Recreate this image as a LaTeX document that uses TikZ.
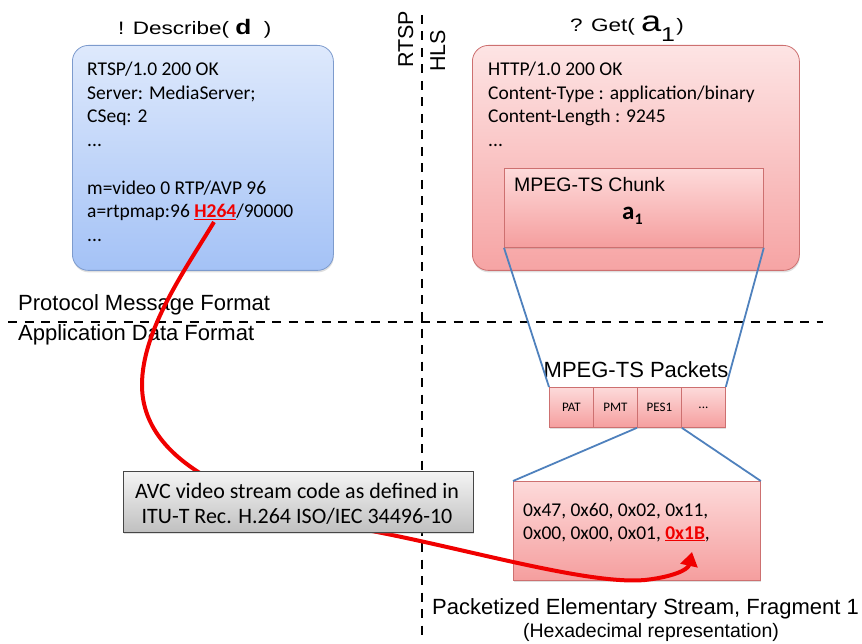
\documentclass[tikz,border=0pt]{standalone}
\usepackage{fontspec}
\usepackage{graphicx}
\setmainfont{Liberation Sans}
\newfontfamily\calib{Carlito}
\usetikzlibrary{arrows.meta,shadows}

\definecolor{bluetop}{RGB}{222,233,252}
\definecolor{bluebot}{RGB}{164,194,246}
\definecolor{blueedge}{RGB}{125,155,205}
\definecolor{redtop}{RGB}{253,228,228}
\definecolor{redbot}{RGB}{246,164,164}
\definecolor{rededge}{RGB}{205,112,112}
\definecolor{chunktop}{RGB}{253,218,218}
\definecolor{chunkbot}{RGB}{245,158,158}
\definecolor{graytop}{RGB}{244,244,244}
\definecolor{graybot}{RGB}{192,192,192}
\definecolor{grayedge}{RGB}{70,70,70}
\definecolor{linkblue}{RGB}{79,129,189}
\definecolor{hotred}{RGB}{240,0,0}

\tikzset{
  x=1pt, y=-1pt,
  shadowed/.style={drop shadow={opacity=0.25, shadow xshift=0.5pt, shadow yshift=-2pt}},
  msgbox/.style={draw, line width=0.8pt, rounded corners=16pt, inner sep=0pt, anchor=north west, shadowed},
  bluebox/.style={msgbox, draw=blueedge, top color=bluetop, bottom color=bluebot},
  redbox/.style={msgbox, draw=rededge, top color=redtop, bottom color=redbot},
  plainbox/.style={draw=rededge, line width=0.8pt, top color=chunktop, bottom color=chunkbot, inner sep=0pt, anchor=north west, shadowed},
  pkt/.style={plainbox, minimum width=44pt, minimum height=40pt, font=\calib\fontsize{13}{13}\selectfont},
  avcbox/.style={draw=grayedge, line width=0.8pt, top color=graytop, bottom color=graybot, inner sep=0pt, anchor=north west, shadowed},
  boxtxt/.style={anchor=base west, inner sep=0pt, font=\calib\fontsize{19.5}{23.5}\selectfont},
  avctxt/.style={anchor=base, inner sep=0pt, font=\calib\fontsize{22}{25}\selectfont},
  lbl/.style={anchor=base west, inner sep=0pt, font=\fontsize{22}{22}\selectfont},
  sidelbl/.style={anchor=base west, inner sep=0pt, rotate=90, font=\fontsize{21.5}{21.5}\selectfont},
  divider/.style={line width=2.6pt, dash pattern=on 9pt off 7.5pt},
  linkline/.style={draw=linkblue, line width=1.8pt},
  refcurve/.style={draw=hotred, line width=4pt, -{Triangle[length=14pt,width=17pt]}}
}

\begin{document}
\begin{tikzpicture}
\useasboundingbox (0,0) rectangle (862,644);

% dividers
\coordinate (vtop) at (422,15);
\coordinate (vbot) at (422,640);
\coordinate (hleft) at (8,322);
\coordinate (hright) at (823,322);
\draw[divider] (vtop) -- (vbot);
\draw[divider] (hleft) -- (hright);

\node[sidelbl] (rtsp) at (413,68) {RTSP};
\node[sidelbl] (hls) at (445,72) {HLS};

\node[lbl] (pmf) at (18,311) {Protocol Message Format};
\node[lbl] (adf) at (18,341) {Application Data Format};

% titles
\node[anchor=base west, inner sep=0pt] (ttlL) at (118,35)
  {\scalebox{1.25}[1]{\fontsize{18}{18}\selectfont ! Describe( {\fontsize{21}{21}\selectfont\bfseries d}\hspace{10pt})}};
\node[anchor=base west, inner sep=0pt] (ttlR) at (570,32)
  {\scalebox{1.25}[1]{\fontsize{18}{18}\selectfont ? Get( {\fontsize{29}{29}\selectfont a}\raisebox{-10pt}{\fontsize{20}{20}\selectfont 1}\hspace{1pt})}};

% RTSP message box
\node[bluebox, minimum width=261pt, minimum height=225pt] (rtspbox) at (72,45) {};
\node[boxtxt] (b1) at (87,76) {RTSP/1.0 200 OK};
\node[boxtxt] (b2) at (87,100) {Server: MediaServer;};
\node[boxtxt] (b3) at (87,123) {CSeq: 2};
\node[boxtxt] (b4) at (87,147) {...};
\node[boxtxt] (b5) at (87,195) {m=video 0 RTP/AVP 96};
\node[boxtxt] (b6) at (87,218) {a=rtpmap:96 \textcolor{hotred}{\bfseries\underline{H264}}/90000};
\node[boxtxt] (b7) at (87,242) {...};

% HLS message box
\node[redbox, minimum width=327pt, minimum height=225pt] (hlsbox) at (472,45) {};
\node[boxtxt] (r1) at (488,76) {HTTP/1.0 200 OK};
\node[boxtxt] (r2) at (488,100) {Content-Type : application/binary};
\node[boxtxt] (r3) at (488,123) {Content-Length : 9245};
\node[boxtxt] (r4) at (488,147) {...};

\node[plainbox, minimum width=259pt, minimum height=79pt] (chunk) at (504,168) {};
\node[anchor=base west, inner sep=0pt, font=\fontsize{19.5}{19.5}\selectfont] (chunkt) at (514,192) {MPEG-TS Chunk};
\node[anchor=base west, inner sep=0pt, font=\calib\bfseries\fontsize{25}{25}\selectfont] (a1) at (622,220)
  {a\raisebox{-5pt}{\fontsize{16}{16}\selectfont 1}};

% packets
\node[anchor=base, inner sep=0pt, font=\fontsize{22}{22}\selectfont] (pkts) at (636,377) {MPEG-TS Packets};
\node[pkt] (pat) at (549,387) {PAT};
\node[pkt] (pmt) at (593,387) {PMT};
\node[pkt] (pes) at (637,387) {PES1};
\node[pkt] (more) at (681,387) {...};

\draw[linkline] (chunk.south west) -- (pat.north west);
\draw[linkline] (chunk.south east) -- (more.north east);

% hex box
\node[plainbox, minimum width=247pt, minimum height=99pt] (hex) at (513,481) {};
\draw[linkline] (pes.south west) -- (hex.north west);
\draw[linkline] (pes.south east) -- (hex.north east);
\node[boxtxt] (h1) at (523,516) {0x47, 0x60, 0x02, 0x11,};
\node[boxtxt] (h2) at (523,539) {0x00, 0x00, 0x01, \textcolor{hotred}{\bfseries\underline{0x1B}},};

\node[lbl] (pestitle) at (432,614) {Packetized Elementary Stream, Fragment 1};
\node[anchor=base, inner sep=0pt, font=\fontsize{19.5}{19.5}\selectfont] (hexrep) at (651,637) {(Hexadecimal representation)};

% reference curve
\coordinate (h264) at (214,222);
\coordinate (x1b) at (692,552);
\draw[refcurve] (h264) .. controls (185,270) and (142,330) .. (142,385)
  .. controls (142,470) and (260,510) .. (377,532)
  .. controls (470,550) and (590,585) .. (645,580)
  .. controls (672,577) and (688,570) .. (x1b);

% AVC note
\node[avcbox, minimum width=350pt, minimum height=61pt] (avc) at (123,471) {};
\node[avctxt] (avc1) at (297,498) {AVC video stream code as defined in};
\node[avctxt] (avc2) at (297,523) {ITU-T Rec. H.264 ISO/IEC 34496-10};
\end{tikzpicture}
\end{document}
